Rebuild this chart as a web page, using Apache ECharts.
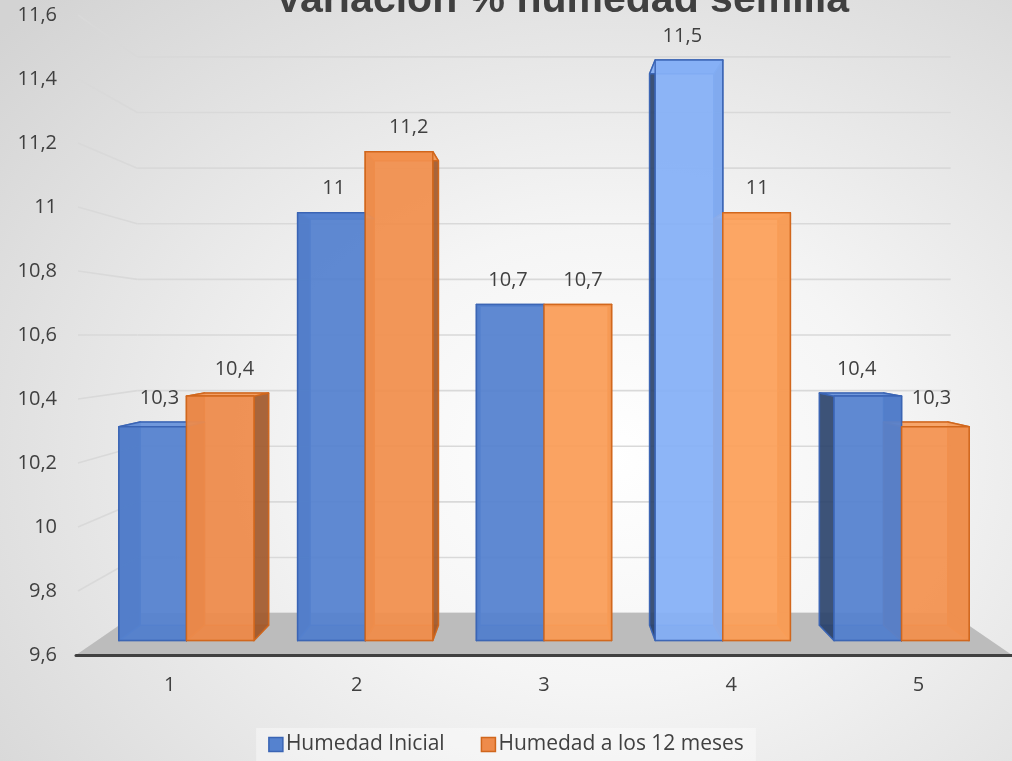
<!DOCTYPE html>
<html>
<head>
<meta charset="utf-8">
<script src="https://cdn.jsdelivr.net/npm/echarts@6/dist/echarts.min.js"></script>
<style>
  html, body { margin: 0; padding: 0; }
  #chart {
    width: 1012px; height: 761px;
    background: radial-gradient(ellipse 80% 85% at 60% 60%, #ffffff 0%, #f5f5f5 35%, #d3d3d3 100%);
  }
</style>
</head>
<body>
<div id="chart"></div>
<script>
// ---- data ----
const categories = ['1', '2', '3', '4', '5'];
const humedadInicial = [10.3, 11, 10.7, 11.5, 10.4];
const humedad12Meses = [10.4, 11.2, 10.7, 11, 10.3];
const yTicks = [9.6, 9.8, 10, 10.2, 10.4, 10.6, 10.8, 11, 11.2, 11.4, 11.6];
const seriesNames = ['Humedad Inicial', 'Humedad a los 12 meses'];
const titleText = 'Variación % humedad semilla';

// ---- 3D view settings ----
const Y_MIN = 9.6, Y_MAX = 11.6, Y_STEP = 0.2;
const EYE_LEVEL = 10.6;                 // horizon height (value units)
const MID_CAT = (categories.length - 1) / 2;
const DEPTH = { barFront: 0.955, barBack: 0.907, wall: 0.869 };
const BAR_RATIO = 0.378;                // bar width as share of a category band

// colours: base, highlight (lit faces), edge, side and top faces
const palettes = [
  { front: '#5582cf', hi: '#86b0f6', edge: '#3a64b4', side: '#2d446c', top: '#6a94db', topHi: '#8fb6f8',
    lightX: 690, lightW: 120 },
  { front: '#ee8b4b', hi: '#ffa55e', edge: '#d0661c', side: '#a2592b', top: '#f39b5f', topHi: '#ffae6c',
    lightX: 690, lightW: 350 }
];

const fmt = v => String(+(+v).toFixed(1)).replace('.', ',');

function project(vp, x, y, s) {
  return [vp[0] + (x - vp[0]) * s, vp[1] + (y - vp[1]) * s];
}

function mix(a, b, f) {
  const pa = parseInt(a.slice(1), 16), pb = parseInt(b.slice(1), 16);
  const ch = (n, sh) => (n >> sh) & 255;
  const m = sh => Math.round(ch(pa, sh) + (ch(pb, sh) - ch(pa, sh)) * f);
  return 'rgb(' + m(16) + ',' + m(8) + ',' + m(0) + ')';
}

// Back wall, left side wall and floor
function renderWalls(params, api) {
  const cs = params.coordSys;
  const v = api.value(1);
  const vp = api.coord([MID_CAT, EYE_LEVEL]);
  const y = api.coord([0, v])[1];
  const xl = cs.x, xr = cs.x + cs.width;
  const wl = project(vp, xl, y, DEPTH.wall);
  const wr = project(vp, xr, y, DEPTH.wall);
  const children = [
    { type: 'line', shape: { x1: xl + 2, y1: y, x2: wl[0], y2: wl[1] },
      style: { stroke: '#d9d9d9', lineWidth: 1.6 } },
    { type: 'line', shape: { x1: wl[0], y1: wl[1], x2: wr[0], y2: wr[1] },
      style: { stroke: '#d9d9d9', lineWidth: 1.6 } }
  ];
  if (params.dataIndex === 0) {
    const yb = api.coord([0, Y_MIN])[1];
    const bl = project(vp, xl, yb, DEPTH.wall);
    const br = project(vp, xr, yb, DEPTH.wall);
    children.push({
      type: 'polygon', z2: 10,
      shape: { points: [[xl, yb], [xr, yb], br, bl] },
      style: { fill: '#bcbcbc' }
    });
  }
  return { type: 'group', children };
}

// Perspective box for one bar
function barRenderer(side) {
  const pal = palettes[side];
  return function (params, api) {
    const idx = api.value(0);
    const val = api.value(1);
    const top = api.coord([idx, val]);
    const base = api.coord([idx, Y_MIN]);
    const vp = api.coord([MID_CAT, EYE_LEVEL]);
    const w = api.size([1, 0])[0] * BAR_RATIO;
    const x0 = side === 0 ? top[0] - w : top[0];
    const x1 = x0 + w;
    const f = DEPTH.barFront, b = DEPTH.barBack;
    const fTL = project(vp, x0, top[1], f), fTR = project(vp, x1, top[1], f);
    const fBR = project(vp, x1, base[1], f), fBL = project(vp, x0, base[1], f);
    const bTL = project(vp, x0, top[1], b), bTR = project(vp, x1, top[1], b);
    const bBR = project(vp, x1, base[1], b), bBL = project(vp, x0, base[1], b);

    // faces facing the light get brighter
    const cx = (fTL[0] + fTR[0]) / 2;
    const light = Math.max(0, 1 - Math.abs(cx - pal.lightX) / pal.lightW);
    const frontFill = mix(pal.front, pal.hi, light);
    const topFill = mix(pal.top, pal.topHi, light);

    const edge = { stroke: pal.edge, lineWidth: 1.5, lineJoin: 'round' };
    const poly = (pts, style, z2) => ({ type: 'polygon', z2, shape: { points: pts }, style });

    const cxTop = (fTL[0] + fTR[0] + bTL[0] + bTR[0]) / 4 + (side === 0 ? -3 : 6);
    const cyTop = Math.min(fTL[1], bTL[1]);

    return {
      type: 'group',
      children: [
        poly([bTL, bTR, bBR, bBL], Object.assign({ fill: 'none', opacity: 0.55 }, edge), 1),
        poly([fBL, fBR, bBR, bBL], Object.assign({ fill: pal.side, opacity: 0.5 }, edge), 2),
        poly([fTL, bTL, bBL, fBL], Object.assign({ fill: pal.side, opacity: 0.92 }, edge), 3),
        poly([fTR, bTR, bBR, fBR], Object.assign({ fill: pal.side, opacity: 0.92 }, edge), 3),
        poly([fTL, fTR, bTR, bTL], Object.assign({ fill: topFill, opacity: 0.96 }, edge), 4),
        poly([fTL, fTR, fBR, fBL], Object.assign({ fill: frontFill, opacity: 0.94 }, edge), 5),
        { type: 'text', z2: 20,
          style: { x: cxTop, y: cyTop - 24, text: fmt(val), align: 'center', verticalAlign: 'middle',
                   fill: '#404040', fontSize: 20, fontFamily: 'Open Sans' } }
      ]
    };
  };
}

const chart = echarts.init(document.getElementById('chart'), null, { renderer: 'canvas' });

chart.setOption({
  backgroundColor: 'transparent',
  animation: false,
  graphic: [{
    type: 'text', x: 562, y: 21, z: 100,
    style: { text: titleText, align: 'center', verticalAlign: 'bottom',
             fontSize: 41, fontWeight: 'bold', fontFamily: 'Liberation Sans', fill: '#404040' }
  }],
  legend: {
    left: 'center', top: 728,
    data: seriesNames.map((n, i) => ({ name: n, itemStyle: { color: palettes[i].front, borderColor: palettes[i].edge, borderWidth: 1.5 } })),
    icon: 'rect', itemWidth: 14, itemHeight: 14, itemGap: 36,
    padding: [6, 12, 14, 12],
    backgroundColor: 'rgba(255,255,255,0.4)',
    textStyle: { fontSize: 21, color: '#404040', fontFamily: 'Open Sans', padding: [0, 0, 0, -2] }
  },
  grid: { left: 76, top: 15, width: 942, height: 640 },
  xAxis: {
    type: 'category', data: categories, z: 10,
    axisLine: { lineStyle: { color: '#404040', width: 3 } },
    axisTick: { show: false },
    axisLabel: { margin: 20, fontSize: 20, color: '#404040', fontFamily: 'Open Sans' },
    splitLine: { show: false }
  },
  yAxis: {
    type: 'value', min: Y_MIN, max: Y_MAX, interval: Y_STEP,
    axisLine: { show: false }, axisTick: { show: false }, splitLine: { show: false },
    axisLabel: { margin: 19, fontSize: 20, color: '#404040', fontFamily: 'Open Sans', formatter: fmt }
  },
  series: [
    { type: 'custom', name: 'walls', z: 1, silent: true,
      data: yTicks.map(v => [0, v]), renderItem: renderWalls },
    { type: 'custom', name: seriesNames[0], z: 2,
      itemStyle: { color: palettes[0].front, borderColor: palettes[0].edge },
      data: humedadInicial.map((v, i) => [i, v]), renderItem: barRenderer(0) },
    { type: 'custom', name: seriesNames[1], z: 2,
      itemStyle: { color: palettes[1].front, borderColor: palettes[1].edge },
      data: humedad12Meses.map((v, i) => [i, v]), renderItem: barRenderer(1) }
  ]
});
</script>
</body>
</html>
